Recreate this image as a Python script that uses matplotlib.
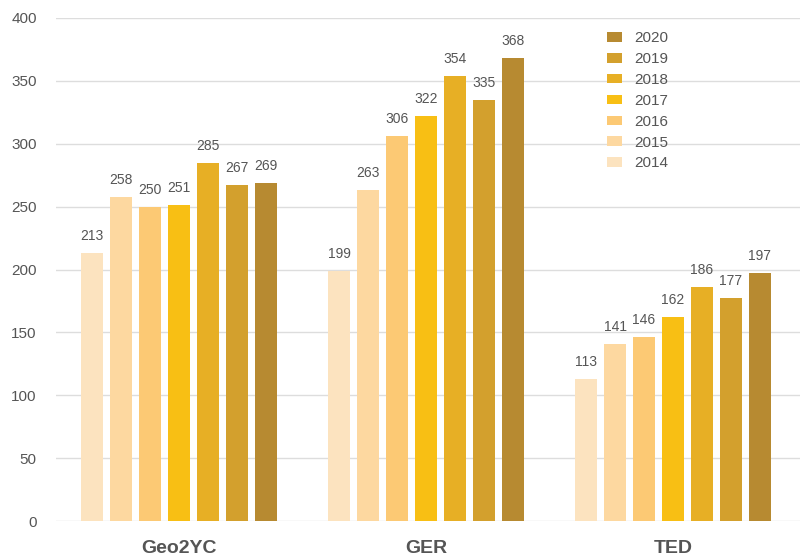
import matplotlib.pyplot as plt
import numpy as np

plt.rcParams["font.family"] = ["Liberation Sans", "DejaVu Sans"]

categories = ["Geo2YC", "GER", "TED"]
years = ["2014", "2015", "2016", "2017", "2018", "2019", "2020"]
values = {
    "2014": [213, 199, 113],
    "2015": [258, 263, 141],
    "2016": [250, 306, 146],
    "2017": [251, 322, 162],
    "2018": [285, 354, 186],
    "2019": [267, 335, 177],
    "2020": [269, 368, 197],
}
colors = ["#FCE3BF", "#FDD8A0", "#FCC974", "#F8BF14", "#E7AF25", "#D3A02D", "#B78A31"]

fig = plt.figure(figsize=(8.01, 5.57), dpi=100)
ax = fig.add_axes([0.07, 0.0646, 0.929, 0.9031])

x = np.arange(len(categories))
step = 29 / 247
width = 22 / 247
text_col = "#555555"

for i, yr in enumerate(years):
    pos = x + (i - 3) * step
    bars = ax.bar(pos, values[yr], width, color=colors[i], label=yr, zorder=3)
    for b, v in zip(bars, values[yr]):
        ax.text(b.get_x() + b.get_width() / 2, v + 8, str(v), ha="center", va="bottom",
                fontsize=10, color=text_col, zorder=4)

ax.set_ylim(0, 400)
ax.set_xlim(-0.498, 2.515)
ax.set_yticks(np.arange(0, 401, 50))
ax.yaxis.grid(True, color="#dddddd", lw=1, zorder=0)
ax.set_xticks(x)
ax.set_xticklabels(categories, fontsize=14, fontweight="bold", color=text_col)
ax.tick_params(axis="x", length=0, pad=14)
ax.tick_params(axis="y", length=0, labelsize=11, colors=text_col, pad=14)
for s in ax.spines.values():
    s.set_visible(False)

handles, labels = ax.get_legend_handles_labels()
leg = ax.legend(handles[::-1], labels[::-1], loc="upper left", bbox_to_anchor=(0.722, 1.001),
                frameon=False, fontsize=11, handlelength=1.0, handleheight=0.6,
                labelspacing=0.45, handletextpad=0.8)
for t in leg.get_texts():
    t.set_color(text_col)

fig.savefig("out.png", dpi=100)
